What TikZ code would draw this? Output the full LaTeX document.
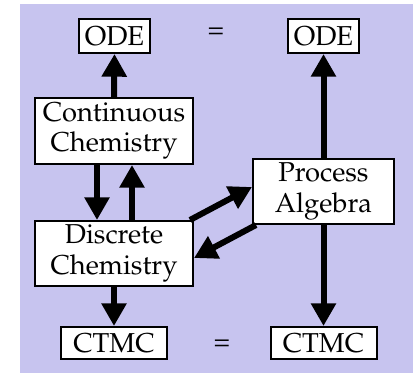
\documentclass[tikz,border=0pt]{standalone}
\usepackage[T1]{fontenc}
\usepackage{mathpazo}
\usetikzlibrary{arrows.meta,calc}

\definecolor{lavender}{RGB}{199,196,239}
\tikzset{every picture/.style={line width=0.75pt}}
\tikzset{
  box/.style={draw, fill=white, line width=1.5pt, inner sep=0pt, align=center,
    font=\fontsize{20.5}{23}\selectfont},
  bigarrow/.style={line width=4.5pt, -{Triangle[width=18pt,length=17pt]}},
  eqsign/.style={font=\fontsize{20.5}{23}\selectfont}
}

\begin{document}
\begin{tikzpicture}[x=0.75pt,y=0.75pt,yscale=-1,xscale=1]
\useasboundingbox (0,0) rectangle (413,373);
\fill[lavender] (20,4) rectangle (413,373);

% Text Node
\node[box, minimum width=53.25pt, minimum height=25.5pt] (odeL) at (114.5,36) {ODE};
% Text Node
\node[box, minimum width=53.25pt, minimum height=25.5pt] (odeR) at (323.5,36) {ODE};
% Text Node
\node[eqsign] (eqtop) at (216,33) {=};
% Text Node
\node[box, minimum width=118.5pt, minimum height=49.5pt] (cont) at (114,131) {Continuous\\Chemistry};
% Text Node
\node[box, minimum width=105.75pt, minimum height=48.75pt] (pa) at (323.5,191.5) {Process\\Algebra};
% Text Node
\node[box, minimum width=118.5pt, minimum height=48.75pt] (disc) at (114,253.5) {Discrete\\Chemistry};
% Text Node
\node[box, minimum width=79.5pt, minimum height=24pt] (ctmcL) at (114,343) {CTMC};
% Text Node
\node[box, minimum width=79.5pt, minimum height=24pt] (ctmcR) at (323.5,343) {CTMC};
% Text Node
\node[eqsign] (eqbot) at (222,345) {=};

% Arrows
\draw[bigarrow] (cont.north) -- (odeL.south);
\draw[bigarrow] ($(cont.south)+(-17,0)$) -- ($(disc.north)+(-17,0)$);
\draw[bigarrow] ($(disc.north)+(18,0)$) -- ($(cont.south)+(18,0)$);
\draw[bigarrow] (disc.south) -- (ctmcL.north);
\draw[bigarrow] (pa.north) -- (odeR.south);
\draw[bigarrow] (pa.south) -- (ctmcR.north);
\draw[bigarrow] ($(disc.north east)+(-4,0)$) -- ($(pa.west)+(0,-4.5)$);
\draw[bigarrow] ($(pa.south west)+(4,0)$) -- ($(disc.east)+(0,4.5)$);

\end{tikzpicture}
\end{document}
